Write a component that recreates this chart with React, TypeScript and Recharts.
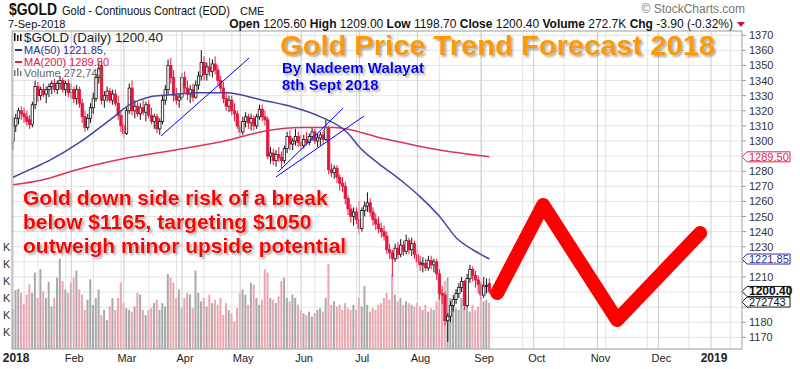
import {
  ComposedChart,
  Bar,
  Line,
  XAxis,
  YAxis,
  CartesianGrid,
  ReferenceLine,
  ReferenceDot,
} from "recharts";

// daily candles [open, high, low, close], 2 Jan .. 7 Sep 2018
const candles: number[][] = [
  // Jan
  [1300, 1316, 1294, 1310], [1310, 1318, 1306, 1315], [1315, 1322, 1311, 1320], [1320, 1323, 1314, 1318],
  [1318, 1322, 1312, 1316], [1316, 1320, 1310, 1313], [1314, 1317, 1308, 1311], [1311, 1326, 1309, 1324],
  [1324, 1340, 1321, 1336], [1336, 1339, 1326, 1330], [1330, 1336, 1327, 1334], [1334, 1338, 1329, 1331],
  [1331, 1336, 1325, 1334], [1334, 1338, 1329, 1336], [1336, 1340, 1331, 1338], [1338, 1341, 1332, 1334],
  [1334, 1340, 1331, 1338], [1338, 1343, 1334, 1340], [1340, 1342, 1332, 1334], [1334, 1340, 1330, 1338],
  [1338, 1341, 1329, 1332],
  // Feb
  [1332, 1338, 1328, 1334], [1334, 1336, 1325, 1328], [1328, 1337, 1324, 1334], [1334, 1336, 1322, 1325],
  [1325, 1328, 1312, 1316], [1316, 1320, 1306, 1309], [1309, 1318, 1307, 1315], [1315, 1325, 1312, 1322],
  [1322, 1332, 1318, 1328], [1328, 1344, 1326, 1342], [1342, 1352, 1338, 1348], [1350, 1354, 1324, 1327],
  [1327, 1333, 1322, 1330], [1330, 1336, 1326, 1333], [1333, 1335, 1325, 1327], [1327, 1334, 1324, 1331],
  [1331, 1334, 1323, 1325], [1325, 1330, 1314, 1317], [1317, 1320, 1306, 1310],
  // Mar
  [1310, 1312, 1302, 1305], [1305, 1322, 1304, 1320], [1320, 1338, 1318, 1335], [1335, 1340, 1317, 1320],
  [1320, 1327, 1315, 1323], [1323, 1326, 1316, 1318], [1318, 1325, 1314, 1322], [1322, 1327, 1317, 1319],
  [1319, 1326, 1313, 1324], [1324, 1327, 1315, 1317], [1317, 1322, 1311, 1313], [1313, 1318, 1308, 1316],
  [1316, 1318, 1305, 1308], [1308, 1315, 1304, 1313], [1313, 1330, 1311, 1327], [1327, 1337, 1324, 1334],
  [1334, 1354, 1331, 1350], [1350, 1355, 1338, 1342], [1342, 1347, 1326, 1330], [1330, 1335, 1324, 1327],
  [1327, 1331, 1322, 1329],
  // Apr
  [1329, 1345, 1327, 1342], [1342, 1346, 1331, 1335], [1335, 1340, 1327, 1331], [1331, 1337, 1325, 1334],
  [1334, 1338, 1326, 1329], [1329, 1340, 1328, 1337], [1337, 1346, 1334, 1343], [1343, 1360, 1340, 1352],
  [1352, 1356, 1340, 1344], [1344, 1352, 1340, 1349], [1349, 1355, 1343, 1346], [1346, 1354, 1342, 1351],
  [1351, 1356, 1344, 1347], [1347, 1350, 1337, 1340], [1340, 1343, 1332, 1335], [1335, 1339, 1325, 1328],
  [1328, 1332, 1320, 1323], [1323, 1330, 1319, 1327], [1327, 1330, 1317, 1320], [1320, 1325, 1313, 1318],
  [1318, 1320, 1308, 1310],
  // May
  [1310, 1313, 1303, 1306], [1306, 1316, 1304, 1313], [1313, 1319, 1309, 1316], [1316, 1318, 1308, 1312],
  [1312, 1318, 1307, 1315], [1315, 1317, 1307, 1310], [1310, 1318, 1308, 1316], [1316, 1324, 1314, 1321],
  [1321, 1324, 1313, 1316], [1316, 1320, 1310, 1314], [1314, 1316, 1288, 1290], [1290, 1296, 1285, 1292],
  [1292, 1295, 1284, 1287], [1287, 1294, 1283, 1291], [1291, 1296, 1286, 1289], [1289, 1293, 1282, 1287],
  [1287, 1297, 1285, 1295], [1295, 1306, 1292, 1303], [1303, 1307, 1294, 1298], [1298, 1302, 1294, 1300],
  [1300, 1308, 1297, 1303], [1303, 1306, 1296, 1299],
  // Jun
  [1299, 1304, 1294, 1297], [1297, 1304, 1295, 1301], [1301, 1306, 1297, 1299], [1299, 1305, 1297, 1303],
  [1303, 1309, 1300, 1306], [1306, 1308, 1298, 1300], [1300, 1305, 1296, 1302], [1302, 1306, 1297, 1304],
  [1304, 1307, 1298, 1301], [1301, 1314, 1300, 1309], [1309, 1310, 1278, 1281], [1281, 1285, 1276, 1279],
  [1279, 1284, 1275, 1282], [1282, 1284, 1272, 1276], [1276, 1278, 1267, 1272], [1272, 1276, 1266, 1270],
  [1270, 1273, 1258, 1262], [1262, 1264, 1251, 1255], [1255, 1258, 1246, 1250], [1250, 1256, 1244, 1253],
  [1253, 1256, 1245, 1248],
  // Jul
  [1248, 1260, 1238, 1242], [1242, 1256, 1240, 1254], [1254, 1260, 1250, 1257], [1257, 1266, 1253, 1259],
  [1259, 1262, 1250, 1253], [1253, 1256, 1244, 1248], [1248, 1252, 1241, 1245], [1245, 1250, 1239, 1242],
  [1242, 1246, 1236, 1240], [1240, 1244, 1234, 1237], [1237, 1240, 1225, 1228], [1228, 1232, 1222, 1226],
  [1226, 1228, 1210, 1222], [1222, 1232, 1220, 1229], [1229, 1233, 1222, 1225], [1225, 1235, 1223, 1231],
  [1231, 1234, 1224, 1227], [1227, 1238, 1225, 1234], [1234, 1236, 1225, 1228], [1228, 1236, 1224, 1232],
  [1232, 1234, 1222, 1225],
  // Aug
  [1225, 1228, 1216, 1220], [1220, 1224, 1214, 1218], [1218, 1223, 1213, 1219], [1219, 1222, 1214, 1216],
  [1216, 1224, 1214, 1221], [1221, 1224, 1215, 1218], [1218, 1222, 1213, 1220], [1220, 1222, 1208, 1212],
  [1212, 1215, 1195, 1199], [1199, 1204, 1192, 1198], [1198, 1200, 1178, 1181], [1181, 1186, 1167, 1184],
  [1184, 1194, 1180, 1191], [1191, 1198, 1187, 1195], [1195, 1202, 1192, 1199], [1199, 1206, 1196, 1203],
  [1203, 1210, 1200, 1207], [1207, 1208, 1188, 1191], [1191, 1212, 1190, 1209], [1209, 1218, 1206, 1215],
  [1215, 1217, 1207, 1211], [1211, 1214, 1203, 1208], [1208, 1211, 1199, 1205],
  // Sep
  [1205, 1207, 1195, 1198], [1198, 1210, 1196, 1204], [1204, 1209, 1199, 1204.3], [1205.6, 1209, 1198.7, 1200.4],
];

// daily volume in thousands
const volumeK: number[] = [
  235, 345, 353, 330, 265, 320, 380, 330, 450, 300, 470, 340, 300, 395, 250, 300, 420, 530, 400, 350, 330,
  390, 420, 460, 350, 320, 230, 290, 410, 260, 300, 350, 200, 230, 170, 250, 300, 230, 300, 392,
  270, 240, 230, 220, 250, 330, 320, 230, 200, 230, 240, 270, 290, 230, 270, 250, 440, 420, 390, 300, 350,
  240, 300, 330, 320, 240, 460, 330, 280, 300, 250, 320, 270, 290, 260, 300, 200, 270, 230, 210, 160, 240,
  330, 350, 320, 260, 390, 380, 300, 260, 290, 470, 450, 300, 290, 270, 310, 400, 420, 300, 280, 320, 300, 260,
  230, 210, 200, 220, 190, 210, 230, 240, 220, 300, 500, 260, 280, 250, 260, 230, 270, 240, 230, 260, 230,
  300, 250, 370, 260, 220, 240, 230, 260, 270, 300, 330, 290, 440, 320, 280, 300, 260, 280, 270, 260, 250,
  270, 250, 230, 260, 220, 240, 230, 280, 330, 350, 400, 420, 300, 260, 240, 230, 300, 240, 250, 220, 260, 230, 250,
  300, 280, 290, 272.743,
];

// [trading-day index, value]
const ma50Points: number[][] = [
  [0, 1276], [6, 1281], [13, 1287], [24, 1299], [35, 1314], [43, 1325], [49, 1329], [56, 1330.5],
  [67, 1332], [77, 1332], [90, 1327], [101, 1322.5], [111, 1316], [121, 1305], [125, 1296], [132, 1285],
  [140, 1274], [147, 1263], [154, 1250], [160, 1236], [166, 1228], [172, 1221.85],
];
const ma200Points: number[][] = [
  [0, 1271], [10, 1274], [25, 1282], [42, 1289], [60, 1294.5], [78, 1300.7], [92, 1307], [104, 1309],
  [116, 1309], [134, 1301.5], [154, 1294], [172, 1289.5],
];
const forecastPoints: number[][] = [
  [174.8, 1199.4], [191.4, 1257.6], [218.1, 1181.5], [248.1, 1239.1],
];
// [x1, y1, x2, y2]
const trendLines: number[][] = [
  [53.4, 1303.3, 85.2, 1354.9],
  [95.7, 1279.5, 119.2, 1321.8],
  [94.9, 1276.2, 126.7, 1316.5],
];

const monthTicks = [0, 21, 40, 61, 82, 104, 125, 146, 169, 188, 211, 233, 252];
const monthLabels = ["2018", "Feb", "Mar", "Apr", "May", "Jun", "Jul", "Aug", "Sep", "Oct", "Nov", "Dec", "2019"];
const priceTicks = [1170, 1180, 1190, 1200, 1210, 1220, 1230, 1240, 1250, 1260, 1270, 1280, 1290, 1300, 1310, 1320, 1330, 1340, 1350, 1360, 1370];
// labels covered by the value tags on the right
const coveredTicks = [1190, 1200, 1220, 1290];
const volTicks = [100, 200, 300, 400, 500, 600];

const weekTicks: number[] = [];
for (let t = 4; t < 263; t += 5) weekTicks.push(t);

const RED = "#e3173e";
const FONT = "'Liberation Sans', Arial, sans-serif";

const rows: any[] = candles.map(([o, h, l, c], i) => {
  const prev = i > 0 ? candles[i - 1][3] : o;
  return { x: i, o, h, l, c, up: c >= prev, vol: volumeK[i] };
});
ma50Points.forEach(([i, v]) => (rows[i].ma50 = v));
ma200Points.forEach(([i, v]) => (rows[i].ma200 = v));
forecastPoints.forEach(([x, v]) => rows.push({ x, fc: v }));

const Candle = (props: any) => {
  const { x, y, width, height, payload } = props;
  if (!payload || payload.h == null) return null;
  const { o, h, l, c, up } = payload;
  const top = Math.min(y, y + height);
  const hh = Math.abs(height);
  const span = h - l || 1;
  const yO = top + ((h - o) / span) * hh;
  const yC = top + ((h - c) / span) * hh;
  const color = up ? "#111" : RED;
  const cx = x + width / 2;
  const bt = Math.min(yO, yC);
  const bh = Math.max(1, Math.abs(yO - yC));
  return (
    <g>
      <line x1={cx} x2={cx} y1={top} y2={top + hh} stroke={color} strokeWidth={1} />
      <rect x={cx - 1.2} y={bt} width={2.4} height={bh} fill={c > o ? "#fff" : color} stroke={color} strokeWidth={0.8} />
    </g>
  );
};

const VolBar = (props: any) => {
  const { x, y, width, height, payload } = props;
  if (!payload || payload.vol == null || !height) return null;
  return <rect x={x} y={y} width={width} height={height} fill={payload.up ? "#a9a9a9" : "#eaa7af"} />;
};

const MonthTick = (props: any) => {
  const { x, y, payload } = props;
  const idx = monthTicks.indexOf(payload.value);
  const label = monthLabels[idx];
  const year = label.length === 4 && label[0] === "2";
  return (
    <text x={x + 3} y={y + 5} textAnchor="middle" fontSize={year ? 12 : 11} fontWeight={year ? "bold" : "normal"} fill="#222" fontFamily={FONT}>
      {label}
    </text>
  );
};

const PriceTick = (props: any) => {
  const { x, y, payload } = props;
  if (coveredTicks.includes(payload.value)) return null;
  return (
    <text x={x} y={y + 4} fontSize={11} fill="#333" fontFamily={FONT}>
      {payload.value}
    </text>
  );
};

const KTick = (props: any) => {
  const { y } = props;
  return (
    <text x={3} y={y + 4} fontSize={11} fill="#333" fontFamily={FONT}>
      K
    </text>
  );
};

const tag = (label: string, color: string, bold = false) => (props: any) => {
  const { cx, cy } = props;
  return (
    <g>
      <path d={`M${cx} ${cy} L${cx + 5} ${cy - 5} H${cx + 48} V${cy + 5} H${cx + 5} Z`} fill="#fff" stroke={color} strokeWidth={1} />
      <text x={cx + 7} y={cy + 4} fontSize={bold ? 12 : 11} fontWeight={bold ? "bold" : "normal"} fill={color} fontFamily={FONT}>
        {label}
      </text>
    </g>
  );
};

const headerStats: [string, string][] = [
  ["Open", "1205.60"],
  ["High", "1209.00"],
  ["Low", "1198.70"],
  ["Close", "1200.40"],
  ["Volume", "272.7K"],
  ["Chg", "-3.90 (-0.32%)"],
];

export default function App() {
  return (
    <div style={{ position: "absolute", left: 0, top: 0, width: 800, height: 369, background: "#fff", fontFamily: FONT }}>
      <ComposedChart width={800} height={369} data={rows} margin={{ top: 31, right: 0, bottom: 0, left: 0 }}>
        <XAxis xAxisId="main" dataKey="x" type="number" domain={[-0.4, 263.2]} ticks={monthTicks} interval={0}
          tick={<MonthTick />} tickLine={false} axisLine={false} height={20} allowDataOverflow />
        <XAxis xAxisId="vx" dataKey="x" type="number" domain={[-0.4, 263.2]} ticks={weekTicks} hide allowDataOverflow />
        <YAxis yAxisId="price" orientation="right" width={58} domain={[1162.3, 1372.8]} ticks={priceTicks} interval={0}
          allowDataOverflow axisLine={false} tickSize={4} tickMargin={3} tickLine={{ stroke: "#999" }}
          tick={<PriceTick />} />
        <YAxis yAxisId="vol" orientation="left" width={12} domain={[0, 1870]} ticks={volTicks} interval={0}
          allowDataOverflow axisLine={false} tickLine={false} tick={<KTick />} />
        <CartesianGrid xAxisId="vx" yAxisId="price" stroke="#e3e3e3" />
        {monthTicks.map((m) => (
          <ReferenceLine key={m} xAxisId="main" yAxisId="price" x={m} stroke="#cdcdcd" />
        ))}
        <Bar xAxisId="vx" yAxisId="vol" dataKey="vol" barSize={2} shape={<VolBar />} isAnimationActive={false} />
        <Line xAxisId="main" yAxisId="price" dataKey="ma200" type="monotone" stroke="#dd3355" strokeWidth={1.5}
          dot={false} connectNulls isAnimationActive={false} />
        <Line xAxisId="main" yAxisId="price" dataKey="ma50" type="monotone" stroke="#4545a5" strokeWidth={1.5}
          dot={false} connectNulls isAnimationActive={false} />
        <Bar xAxisId="main" yAxisId="price" dataKey={(d: any) => (d.h != null ? [d.l, d.h] : null)} barSize={3}
          shape={<Candle />} isAnimationActive={false} />
        {trendLines.map(([x1, y1, x2, y2], k) => (
          <ReferenceLine key={"t" + k} xAxisId="main" yAxisId="price" stroke="#0000ff" strokeWidth={1}
            segment={[{ x: x1, y: y1 }, { x: x2, y: y2 }]} />
        ))}
        <Line xAxisId="main" yAxisId="price" dataKey="fc" type="linear" stroke="#ff0000" strokeWidth={14}
          strokeLinecap="round" strokeLinejoin="round" dot={false} connectNulls isAnimationActive={false} />
        <ReferenceDot xAxisId="main" yAxisId="price" x={263.2} y={1289.5} ifOverflow="visible" shape={tag("1289.50", "#e0204a")} />
        <ReferenceDot xAxisId="main" yAxisId="price" x={263.2} y={1221.85} ifOverflow="visible" shape={tag("1221.85", "#3030a0")} />
        <ReferenceDot xAxisId="main" yAxisId="vol" x={263.2} y={276} ifOverflow="visible" shape={tag("272743", "#111")} />
        <ReferenceDot xAxisId="main" yAxisId="price" x={263.2} y={1200.4} ifOverflow="visible" shape={tag("1200.40", "#111", true)} />
      </ComposedChart>

      <svg width={800} height={369} style={{ position: "absolute", left: 0, top: 0, pointerEvents: "none" }} fontFamily={FONT}>
        <defs>
          <filter id="sh" x="-5%" y="-20%" width="110%" height="150%">
            <feDropShadow dx="2" dy="2" stdDeviation="1" floodColor="#777" floodOpacity="0.6" />
          </filter>
        </defs>
        <rect x={12} y={31} width={730} height={318} fill="none" stroke="#aaa" />

        {/* header */}
        <text x={9} y={15} fontSize={17} fontWeight="bold" fill="#111" textLength={48} lengthAdjust="spacingAndGlyphs">$GOLD</text>
        <text x={62} y={15} fontSize={13} fill="#111" textLength={168} lengthAdjust="spacingAndGlyphs">Gold - Continuous Contract (EOD)</text>
        <text x={240} y={15} fontSize={11} fill="#111">CME</text>
        <text x={745} y={13} fontSize={12} fill="#777" textAnchor="end">© StockCharts.com</text>
        <text x={8} y={28} fontSize={11} fill="#111">7-Sep-2018</text>
        <text x={733} y={28} fontSize={12} fill="#111" textAnchor="end">
          {headerStats.map(([k, v], n) => (
            <tspan key={k}>
              <tspan fontWeight="bold">{k}</tspan>
              {" " + v + (n < headerStats.length - 1 ? " " : "")}
            </tspan>
          ))}
        </text>
        <path d="M737 22 L745 22 L741 27 Z" fill="#c0103a" />

        {/* legend */}
        <rect x={14} y={33} width={1.5} height={8} fill="#111" />
        <rect x={17} y={35} width={1.5} height={6} fill="#111" />
        <rect x={20} y={34} width={1.5} height={7} fill="#111" />
        <text x={24} y={42} fontSize={13} fill="#222" textLength={139} lengthAdjust="spacingAndGlyphs">$GOLD (Daily) 1200.40</text>
        <line x1={15} x2={22} y1={50} y2={50} stroke="#3030a0" strokeWidth={2} />
        <text x={24} y={54} fontSize={11} fill="#3030a0">MA(50) 1221.85,</text>
        <line x1={15} x2={22} y1={62} y2={62} stroke="#e0204a" strokeWidth={2} />
        <text x={24} y={66} fontSize={11} fill="#e0204a">MA(200) 1289.50</text>
        <rect x={14} y={70} width={1.5} height={6} fill="#777" />
        <rect x={17} y={68} width={1.5} height={8} fill="#777" />
        <rect x={20} y={71} width={1.5} height={5} fill="#777" />
        <text x={24} y={77} fontSize={11} fill="#666">Volume 272,743</text>

        {/* annotations */}
        <g filter="url(#sh)">
          <text x={280} y={55} fontSize={27} fontWeight="bold" fill="#ff9900" textLength={435} lengthAdjust="spacingAndGlyphs">
            Gold Price Trend Forecast 2018
          </text>
          <text x={282} y={73} fontSize={15} fontWeight="bold" fill="#0000ee">By Nadeem Walayat</text>
          <text x={282} y={90} fontSize={15} fontWeight="bold" fill="#0000ee">8th Sept 2018</text>
          <text x={23} y={205} fontSize={21} fontWeight="bold" fill="#ff0000">Gold down side risk of a break</text>
          <text x={23} y={229} fontSize={21} fontWeight="bold" fill="#ff0000">below $1165, targeting $1050</text>
          <text x={23} y={253} fontSize={21} fontWeight="bold" fill="#ff0000">outweigh minor upside potential</text>
        </g>
      </svg>
    </div>
  );
}
